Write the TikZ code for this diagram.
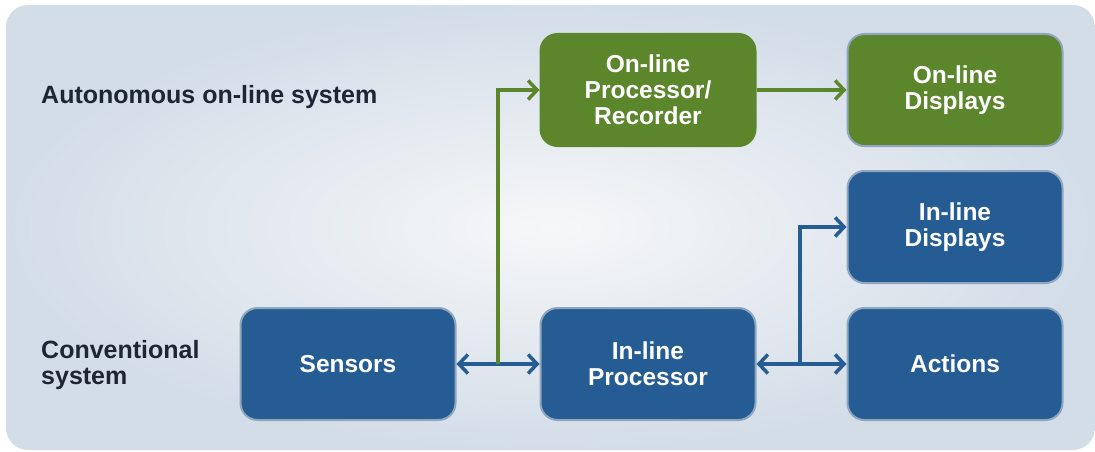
\documentclass[tikz,border=0pt]{standalone}
\usepackage{fontspec}
\setmainfont{Liberation Sans}
\usetikzlibrary{arrows.meta}
\definecolor{bgout}{HTML}{D3DDE8}
\definecolor{bgin}{HTML}{F6F7F8}
\definecolor{boxgreen}{HTML}{5C862C}
\definecolor{boxblue}{HTML}{255C93}
\definecolor{edgegray}{HTML}{8FA6BE}
\definecolor{labeltext}{HTML}{1E2535}
\tikzset{
  box/.style={rounded corners=17pt, draw=edgegray, line width=2pt, text=white,
    font=\fontsize{24.5}{26}\selectfont\bfseries, align=center,
    minimum width=215pt, minimum height=112pt, inner sep=0pt},
  greenbox/.style={box, fill=boxgreen},
  bluebox/.style={box, fill=boxblue},
  lbl/.style={text=labeltext, font=\fontsize{25}{26}\selectfont\bfseries, align=left, anchor=west, inner sep=0pt},
  conn/.style={line width=3.5pt, -{Straight Barb[length=9pt,width=19pt,line width=3.5pt]}},
  bconn/.style={line width=3.5pt, {Straight Barb[length=9pt,width=19pt,line width=3.5pt]}-{Straight Barb[length=9pt,width=19pt,line width=3.5pt]}},
}
\begin{document}
\begin{tikzpicture}[x=1pt,y=-1pt]
\useasboundingbox (0,0) rectangle (1095,452);
\shade[rounded corners=22pt, outer color=bgout, inner color=bgin] (6,5) rectangle (1095,450);
% labels
\node[lbl] (lauto) at (41,97) {Autonomous on-line system};
\node[lbl] (lconv) at (41,365) {Conventional\\system};
% boxes
\node[greenbox, draw=boxgreen] (olp) at (648,90) {On-line\\Processor/\\Recorder};
\node[greenbox] (old) at (955,90) {On-line\\Displays};
\node[bluebox] (ild) at (955,227) {In-line\\Displays};
\node[bluebox] (act) at (955,364) {Actions};
\node[bluebox] (ilp) at (648,364) {In-line\\Processor};
\node[bluebox] (sen) at (348,364) {Sensors};
% connectors
\coordinate (jg) at (498,364);
\coordinate (jb) at (800,364);
\draw[bconn, boxblue] (sen.east) -- (ilp.west);
\draw[conn, boxgreen] (jg) -- (jg |- olp.west) -- (olp.west);
\draw[conn, boxgreen] (olp.east) -- (old.west);
\draw[bconn, boxblue] (ilp.east) -- (act.west);
\draw[conn, boxblue] (jb) -- (jb |- ild.west) -- (ild.west);
\end{tikzpicture}
\end{document}
